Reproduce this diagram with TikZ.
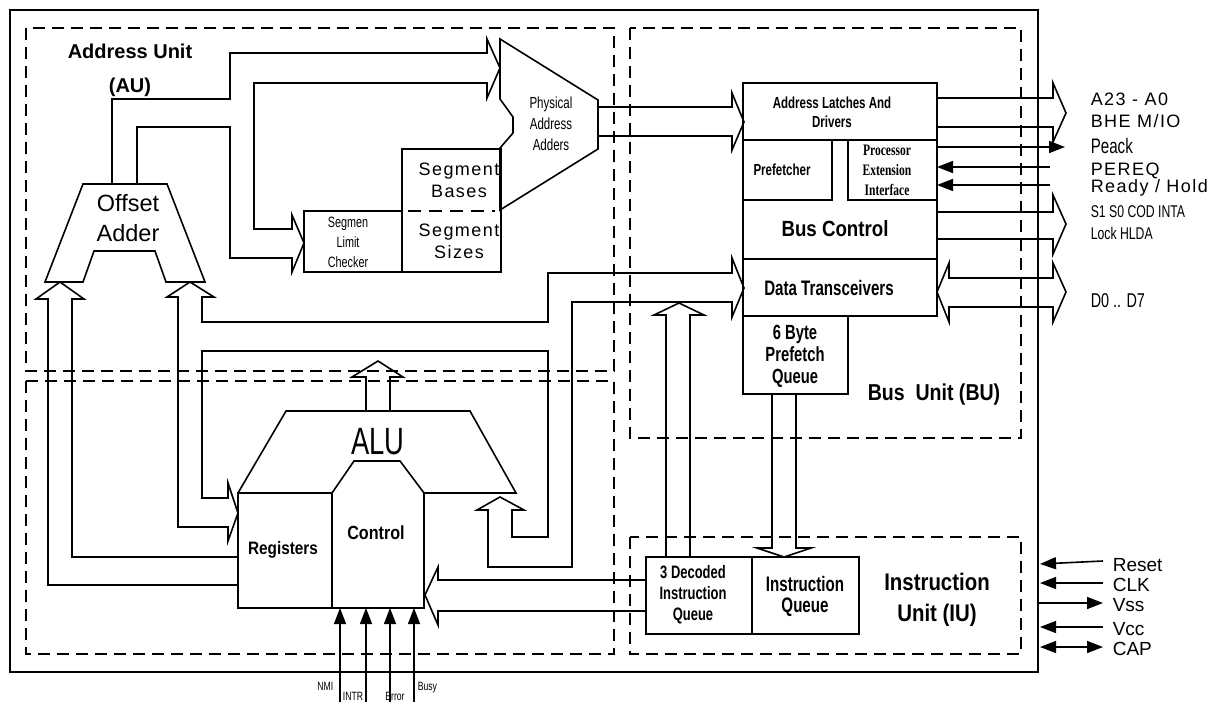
\documentclass[tikz,border=0pt]{standalone}
\usepackage{fontspec}
\setmainfont{Liberation Sans}
\newfontfamily\narrowfont[FakeStretch=0.72]{Liberation Sans}
\newfontfamily\semifont[FakeStretch=0.85]{Liberation Sans}
\newfontfamily\spacedfont[LetterSpace=8]{Liberation Sans}
\newfontfamily\pefont[FakeStretch=0.72]{Liberation Serif}
\newcommand{\fsz}[2]{\fontsize{#1}{#2}\selectfont}
\usetikzlibrary{arrows.meta}
\tikzset{
  unit/.style={line width=1.5pt,dash pattern=on 12pt off 7pt},
  pin/.style={-{Triangle[length=16pt,width=12pt]}},
  pinpair/.style={{Triangle[length=16pt,width=12pt]}-{Triangle[length=16pt,width=12pt]}},
  lbl/.style={inner sep=0pt,align=center},
  sig/.style={inner sep=0pt,anchor=base west},
}
\begin{document}
\begin{tikzpicture}[x=1pt,y=-1pt,line width=1.6pt]
  \useasboundingbox (0,0) rectangle (1230,701);
  % chip and the four units
  \draw[line width=1.8pt] (10,10) rectangle (1038,672);
  \draw[unit] (26,28) rectangle (614,371);
  \draw[unit] (26,381) rectangle (614,654);
  \draw[unit] (630,28) rectangle (1021,438);
  \draw[unit] (630,537) rectangle (1021,654);
  \node[lbl,font=\bfseries\fsz{20}{34}] (au) at (130,70) {Address Unit\\(AU)};
  \node[lbl,font=\semifont\bfseries\fsz{23}{28}] (bu) at (934,395) {Bus\ \ Unit (BU)};
  \node[lbl,font=\semifont\bfseries\fsz{24}{31}] (iu) at (937,600) {Instruction\\Unit (IU)};

  % address unit
  \draw (83,184) -- (167,184) -- (205,282) -- (166,282) -- (155,251) -- (94,251)
    -- (83,282) -- (45,282) -- cycle;
  \node[lbl,font=\fsz{23.5}{30}] (offset) at (128,218) {Offset\\Adder};
  \draw (500,39) -- (598,100) -- (598,149) -- (500,210) -- (500,148) -- (513,133)
    -- (513,117) -- (500,99) -- cycle;
  \node[lbl,font=\narrowfont\fsz{16}{21}] (padd) at (551,124) {Physical\\Address\\Adders};
  \draw (304,211) rectangle (402,272);
  \draw (402,149) rectangle (501,272);
  \draw[dash pattern=on 13pt off 8pt] (408,211) -- (495,211);
  \node[lbl,font=\narrowfont\fsz{15}{20}] (limit) at (348,242) {Segmen\\Limit\\Checker};
  \node[lbl,font=\spacedfont\fsz{18}{22}] (bases) at (459,180) {Segment\\Bases};
  \node[lbl,font=\spacedfont\fsz{18}{22}] (sizes) at (459,241) {Segment\\Sizes};
  \draw (112,184) -- (112,99) -- (230,99) -- (230,53) -- (487,53) -- (487,39) -- (500,68)
    -- (487,98) -- (487,83) -- (254,83) -- (254,229) -- (292,229) -- (292,215) -- (304,243)
    -- (292,272) -- (292,258) -- (230,258) -- (230,127) -- (137,127) -- (137,184);
  \draw (598,107) -- (732,107) -- (732,93) -- (744,122) -- (732,150) -- (732,136) -- (598,136);

  % bus unit
  \draw (743,83) rectangle (937,316);
  \draw (743,140) -- (937,140);
  \draw (832,140) -- (832,200) -- (743,200);
  \draw (848,140) -- (848,200) -- (937,200);
  \draw (743,259) -- (937,259);
  \draw (743,316) rectangle (848,394);
  \node[lbl,font=\narrowfont\bfseries\fsz{16}{19}] (latch) at (832,112) {Address Latches And\\Drivers};
  \node[lbl,font=\narrowfont\bfseries\fsz{16}{19}] (prefetcher) at (782,170) {Prefetcher};
  \node[lbl,font=\pefont\bfseries\fsz{16}{20}] (pei) at (887,170) {Processor\\Extension\\Interface};
  \node[lbl,font=\semifont\bfseries\fsz{22}{26}] (busctl) at (835,229) {Bus Control};
  \node[lbl,font=\narrowfont\bfseries\fsz{21}{24}] (data) at (829,288) {Data Transceivers};
  \node[lbl,font=\narrowfont\bfseries\fsz{20.5}{22}] (pfq) at (795,356) {6 Byte\\Prefetch\\Queue};
  \draw (937,98) -- (1053,98) -- (1053,83) -- (1066,113) -- (1053,142) -- (1053,127) -- (937,127);
  \draw[pin] (937,147) -- (1065,147);
  \draw[pin] (1050,167) -- (937,167);
  \draw[pin] (1050,185) -- (937,185);
  \draw (937,212) -- (1053,212) -- (1053,195) -- (1066,224) -- (1053,254) -- (1053,239) -- (937,239);
  \draw (949,278) -- (1053,278) -- (1053,263) -- (1066,292) -- (1053,322) -- (1053,307)
    -- (949,307) -- (949,322) -- (937,292) -- (949,263) -- cycle;
  \node[sig,font=\spacedfont\fsz{18}{18}] (addr) at (1090,105) {A23 - A0};
  \node[sig,font=\spacedfont\fsz{18}{18}] (bhe) at (1090,127) {BHE M/IO};
  \node[sig,font=\narrowfont\fsz{21}{21}] (peack) at (1090,153) {Peack};
  \node[sig,font=\spacedfont\fsz{18}{18}] (pereq) at (1090,175) {PEREQ};
  \node[sig,font=\spacedfont\fsz{18}{18}] (ready) at (1090,192) {Ready / Hold};
  \node[sig,font=\narrowfont\fsz{17}{17}] (status) at (1090,217) {S1 S0 COD INTA};
  \node[sig,font=\narrowfont\fsz{17}{17}] (lock) at (1090,239) {Lock HLDA};
  \node[sig,font=\narrowfont\fsz{20}{20}] (dbus) at (1090,307) {D0 .. D7};

  % execution unit
  \draw (238,493) rectangle (332,608);
  \draw (332,493) -- (354,461) -- (400,461) -- (424,493) -- (424,608) -- (332,608);
  \draw (238,493) -- (286,411) -- (470,411) -- (516,493) -- (424,493);
  \node[lbl,font=\narrowfont\fsz{38}{38}] (alu) at (378,442) {ALU};
  \node[lbl,font=\semifont\bfseries\fsz{18}{18}] (regs) at (283,550) {Registers};
  \node[lbl,font=\semifont\bfseries\fsz{19}{19}] (ctl) at (376,533) {Control};
  \draw (366,411) -- (366,377) -- (352,377) -- (378,361) -- (403,377) -- (390,377) -- (390,411);
  \draw (202,297) -- (214,297) -- (190,282) -- (167,297) -- (178,297) -- (178,527) -- (228,527)
    -- (228,541) -- (238,513) -- (228,483) -- (228,498) -- (202,498) -- (202,351) -- (548,351)
    -- (548,537) -- (512,537) -- (512,510) -- (524,510) -- (500,497) -- (477,510) -- (488,510)
    -- (488,567) -- (572,567) -- (572,302) -- (732,302) -- (732,317) -- (744,288) -- (732,258)
    -- (732,273) -- (548,273) -- (548,322) -- (202,322) -- cycle;
  \draw (238,585) -- (48,585) -- (48,299) -- (36,299) -- (60,282) -- (84,299) -- (72,299)
    -- (72,557) -- (238,557);
  \foreach \x in {340,366,390,414}
    \draw[pin] (\x,706) -- (\x,608);
  \node[lbl,anchor=base east,font=\narrowfont\fsz{12}{12}] (nmi) at (334,690) {NMI};
  \node[lbl,anchor=base,font=\narrowfont\fsz{12}{12}] (intr) at (353,700) {INTR};
  \node[lbl,anchor=base,font=\narrowfont\fsz{12}{12}] (err) at (395,700) {Error};
  \node[lbl,anchor=base west,font=\narrowfont\fsz{12}{12}] (busy) at (417,690) {Busy};

  % instruction unit
  \draw (646,557) rectangle (752,634);
  \draw (752,557) rectangle (859,634);
  \node[lbl,font=\narrowfont\bfseries\fsz{18}{21}] (diq) at (693,595) {3 Decoded\\Instruction\\Queue};
  \node[lbl,font=\narrowfont\bfseries\fsz{21}{21}] (iq) at (805,596) {Instruction\\Queue};
  \draw (646,580) -- (438,580) -- (438,567) -- (425,595) -- (438,625) -- (438,611) -- (646,611);
  \draw (666,557) -- (666,315) -- (654,315) -- (679,303) -- (704,315) -- (690,315) -- (690,557);
  \draw (772,394) -- (772,548) -- (757,548) -- (784,557) -- (811,548) -- (796,548) -- (796,394);
  \draw[pin] (1103,561) -- (1040,564);
  \draw[pin] (1103,583) -- (1040,583);
  \draw[pin] (1038,603) -- (1103,603);
  \draw[pin] (1103,627) -- (1040,627);
  \draw[pinpair] (1040,647) -- (1103,647);
  \node[sig,font=\fsz{19}{19}] (reset) at (1112,571) {Reset};
  \node[sig,font=\fsz{19}{19}] (clk) at (1112,591) {CLK};
  \node[sig,font=\fsz{19}{19}] (vss) at (1112,611) {Vss};
  \node[sig,font=\fsz{19}{19}] (vcc) at (1112,635) {Vcc};
  \node[sig,font=\fsz{19}{19}] (cap) at (1112,655) {CAP};
\end{tikzpicture}
\end{document}
